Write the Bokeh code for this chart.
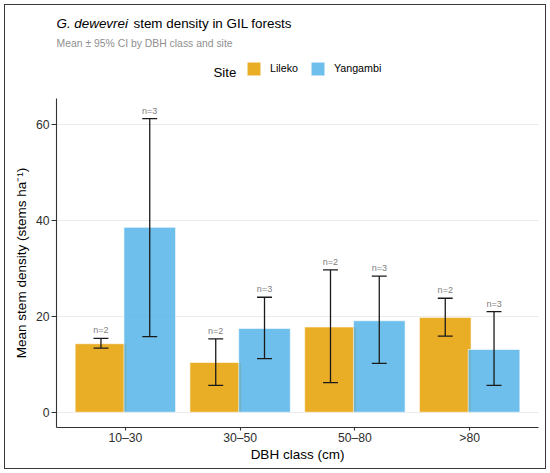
import numpy as np
from bokeh.plotting import figure
from bokeh.layouts import column
from bokeh.models import (ColumnDataSource, Range1d, FixedTicker, Label,
                          Legend, LegendItem)
from bokeh.core.properties import value
from bokeh.embed import file_html
from bokeh.resources import INLINE

# ---------------- data ----------------
dbh_classes = ["10–30", "30–50", "50–80", ">80"]
sites = ["Lileko", "Yangambi"]
lileko_mean = [14.3, 10.4, 17.8, 19.8]
lileko_lower = [13.4, 5.6, 6.2, 15.9]
lileko_upper = [15.4, 15.3, 29.7, 23.8]
lileko_n = [2, 2, 2, 2]
yangambi_mean = [38.6, 17.5, 19.1, 13.1]
yangambi_lower = [15.8, 11.2, 10.2, 5.6]
yangambi_upper = [61.3, 24.0, 28.4, 21.0]
yangambi_n = [3, 3, 3, 3]
y_ticks = [0, 20, 40, 60]

title_italic = "G. dewevrei"
title_rest = "stem density in GIL forests"
subtitle = "Mean ± 95% CI by DBH class and site"
legend_title = "Site"
x_title = "DBH class (cm)"
y_title = "Mean stem density (stems ha⁻¹)"

# ---------------- style ----------------
FONT = "Liberation Sans"
site_colors = {"Lileko": "#E69F00", "Yangambi": "#56B4E9"}
dodge = {"Lileko": -0.2125, "Yangambi": 0.2125}
bar_width = 0.45
cap_width = 0.13
bar_kw = dict(fill_alpha=0.85, line_color="white", line_width=0.6)

# frame of the main panel in page pixels (header is aligned to it)
FRAME_L, FRAME_R = 56, 538

# ---------------- header (titles + legend) ----------------
hdr = figure(width=550, height=90, output_backend="svg", toolbar_location=None,
             title=None, x_axis_type=None, y_axis_type=None,
             x_range=Range1d(FRAME_L, FRAME_R), y_range=Range1d(90, 0),
             min_border=0, background_fill_color=None, border_fill_color=None)
hdr.outline_line_color = None
hdr.grid.visible = False

hdr.add_layout(Label(x=56, y=23.3, text=title_italic, text_font=FONT,
                     text_font_size="13.4px", text_font_style="italic",
                     text_color="#000000", text_baseline="alphabetic"))
hdr.add_layout(Label(x=133, y=23.3, text=title_rest, text_font=FONT,
                     text_font_size="13.4px", text_color="#000000",
                     text_baseline="alphabetic"))
hdr.add_layout(Label(x=56, y=42.7, text=subtitle, text_font=FONT,
                     text_font_size="10.4px", text_color="#8f8f8f",
                     text_baseline="alphabetic"))
hdr.add_layout(Label(x=213, y=72.3, text=legend_title, text_font=FONT,
                     text_font_size="13.3px", text_color="#000000",
                     text_baseline="alphabetic"))

# legend keys: glyphs with the bars' style but no visible position
proxies = []
for site in sites:
    psrc = ColumnDataSource(dict(x=np.array([np.nan]), top=np.array([np.nan])))
    proxies.append(hdr.vbar(x="x", top="top", width=bar_width, source=psrc,
                            fill_color=site_colors[site], **bar_kw))
legend = Legend(items=[LegendItem(label=s, renderers=[r]) for s, r in zip(sites, proxies)],
                orientation="horizontal", location=(245 - FRAME_L, 13.5),
                glyph_width=17, glyph_height=17, label_height=17, label_width=0,
                label_standoff=8, spacing=11, padding=0, margin=0,
                border_line_color=None, background_fill_alpha=0,
                label_text_font=FONT, label_text_font_size="10.7px",
                label_text_color="#000000")
hdr.add_layout(legend)

# ---------------- main plot ----------------
p = figure(width=550, height=383, output_backend="svg", toolbar_location=None,
           title=None, x_range=Range1d(0.4, 4.6), y_range=Range1d(-3.19, 65.5),
           min_border_left=FRAME_L, min_border_right=550 - FRAME_R,
           min_border_top=8, min_border_bottom=46,
           background_fill_color=None, border_fill_color=None)
p.outline_line_color = None

cat_pos = np.arange(1, len(dbh_classes) + 1, dtype=float)
series = {
    "Lileko": (lileko_mean, lileko_lower, lileko_upper, lileko_n),
    "Yangambi": (yangambi_mean, yangambi_lower, yangambi_upper, yangambi_n),
}

sources = {}
for site in sites:
    mean, lower, upper, n = series[site]
    xpos = cat_pos + dodge[site]
    src = ColumnDataSource(dict(x=xpos, top=mean, lower=lower, upper=upper,
                                x0=xpos - cap_width / 2, x1=xpos + cap_width / 2,
                                lab=[f"n={k}" for k in n]))
    p.vbar(x="x", top="top", bottom=0, width=bar_width, source=src,
           fill_color=site_colors[site], **bar_kw)
    sources[site] = src

for site in sites:
    src = sources[site]
    p.segment(x0="x", x1="x", y0="lower", y1="upper", source=src,
              line_color="#1a1a1a", line_width=1.3)
    p.segment(x0="x0", x1="x1", y0="upper", y1="upper", source=src,
              line_color="#1a1a1a", line_width=1.3)
    p.segment(x0="x0", x1="x1", y0="lower", y1="lower", source=src,
              line_color="#1a1a1a", line_width=1.3)
    p.text(x="x", y="upper", text="lab", source=src, text_align="center",
           text_baseline="alphabetic", y_offset=-8,
           text_font=value(FONT), text_font_size="9px", text_color="#808080")

p.xaxis.ticker = FixedTicker(ticks=list(cat_pos))
p.xaxis.major_label_overrides = {int(v): lab for v, lab in zip(cat_pos, dbh_classes)}
p.yaxis.ticker = FixedTicker(ticks=y_ticks)
for ax in (p.xaxis, p.yaxis):
    ax.axis_line_color = "#333333"
    ax.axis_line_width = 1.1
    ax.major_tick_line_color = "#333333"
    ax.major_tick_line_width = 1.1
    ax.major_tick_in = 0
    ax.minor_tick_line_color = None
    ax.major_label_text_font = FONT
    ax.major_label_text_font_size = "12.2px"
    ax.major_label_text_color = "#2e2e2e"
    ax.axis_label_text_font = FONT
    ax.axis_label_text_font_size = "13.5px"
    ax.axis_label_text_font_style = "normal"
    ax.axis_label_text_color = "#000000"
p.xaxis.major_tick_out = 3
p.xaxis.major_label_standoff = 0
p.xaxis.axis_label = x_title
p.xaxis.axis_label_standoff = -1
p.yaxis.major_tick_out = 5
p.yaxis.major_label_standoff = 2
p.yaxis.axis_label = y_title
p.yaxis.axis_label_standoff = 4

p.xgrid.grid_line_color = None
p.ygrid.grid_line_color = "#ebebeb"
p.ygrid.grid_line_width = 1

layout = column(hdr, p, spacing=0)
layout.styles = {"outline": "1.5px solid #3a3a3a", "outline-offset": "-5.5px",
                 "background-color": "white"}

open("out.html", "w").write(file_html(layout, INLINE))
